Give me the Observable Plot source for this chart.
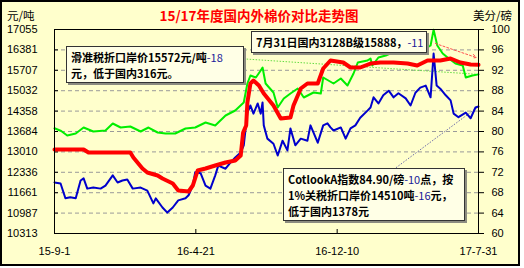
<!DOCTYPE html>
<html><head><meta charset="utf-8">
<script src="https://cdn.jsdelivr.net/npm/d3@7"></script>
<script src="https://cdn.jsdelivr.net/npm/@observablehq/plot@0.6"></script>
<style>
html,body{margin:0;padding:0;background:#fff;}
#wrap{position:relative;width:524px;height:268px;}
#frame{position:absolute;left:0;top:0;width:520px;height:266px;box-sizing:border-box;border:2px solid #000;background:#FFFFCC;}
#chart{position:absolute;left:0;top:0;}
.lbl{position:absolute;font-family:"Noto Sans CJK SC","Liberation Sans",sans-serif;font-size:11.5px;line-height:12px;white-space:nowrap;}
.title{color:#FF0000;font-weight:bold;font-size:13.5px;line-height:14px;}
.box{position:absolute;background:#FFFFE6;border:1px solid #333;box-shadow:2px 2px 0 #8c8c80;box-sizing:border-box;
  font-family:"Noto Sans CJK SC","Liberation Sans",sans-serif;font-weight:bold;font-size:11px;line-height:16px;padding:0 0 0 4px;white-space:nowrap;color:#000;}
.nv{color:#1a1a99;font-weight:normal;}
</style></head>
<body>
<div id="wrap">
  <div id="frame"></div>
  <div id="chart"></div>
</div>
<script>
// ---- data ----
const chartTitle = "15/17年度国内外棉价对比走势图";
const leftUnit = "元/吨";
const rightUnit = "美分/磅";
const leftTicks = [10313,10987,11661,12336,13010,13684,14358,15032,15707,16381,17055];
const rightTicks = [60,64,68,72,76,80,84,88,92,96,100];
const xTickDates = ["2015-09-01","2016-04-21","2016-12-10","2017-07-31"];
const xTickLabels = ["15-9-1","16-4-21","16-12-10","17-7-31"];

// 国内3128B价格 (元/吨)
const domestic = [
["2015-09-01",13089],["2015-10-19",13089],["2015-10-27",12990],["2016-01-04",12990],["2016-01-09",12825],
["2016-01-24",12461],["2016-02-01",12329],["2016-02-18",12230],["2016-02-26",12131],["2016-03-14",11965],
["2016-03-23",11734],["2016-04-09",11701],["2016-04-16",11899],["2016-04-24",12395],["2016-05-07",12461],
["2016-05-23",12560],["2016-06-09",12659],["2016-06-25",12726],["2016-07-04",12891],["2016-07-08",13651],
["2016-07-13",13882],["2016-07-15",14642],["2016-07-20",15270],["2016-07-25",15369],["2016-08-03",15204],
["2016-08-11",14940],["2016-08-27",14543],["2016-09-08",14113],["2016-09-24",14147],["2016-09-29",14543],
["2016-10-11",15105],["2016-10-22",15270],["2016-11-08",15270],["2016-11-17",15766],["2016-11-29",16030],
["2016-12-20",15964],["2017-01-01",15799],["2017-01-17",15799],["2017-02-03",15931],["2017-02-19",15964],
["2017-03-13",15964],["2017-04-05",15931],["2017-04-21",15865],["2017-05-08",16030],["2017-05-29",16030],
["2017-06-15",16097],["2017-07-01",15964],["2017-07-18",15898],["2017-07-31",15888]];

// 滑准税折口岸价 (元/吨)
const slidingImport = [
["2015-09-01",13790],["2015-09-12",13700],["2015-09-22",13552],["2015-10-06",13618],["2015-10-19",13816],["2015-11-04",13684],
["2015-11-24",13717],["2015-12-06",13948],["2015-12-19",13816],["2016-01-04",13849],["2016-01-21",13684],
["2016-02-03",13816],["2016-02-18",13651],["2016-03-02",13618],["2016-03-18",13618],["2016-04-04",13783],
["2016-04-20",13816],["2016-05-07",13981],["2016-05-23",13882],["2016-06-09",14213],["2016-06-25",14378],
["2016-07-09",14642],["2016-07-15",15270],["2016-07-20",15535],["2016-07-29",15469],["2016-08-06",15700],
["2016-08-09",15799],["2016-08-14",15270],["2016-08-27",14973],["2016-09-03",14477],["2016-09-13",14775],
["2016-09-24",14940],["2016-10-06",15105],["2016-10-16",14808],["2016-11-01",14973],["2016-11-13",14940],
["2016-11-17",15469],["2016-12-04",15270],["2016-12-16",15436],["2016-12-27",15204],["2017-01-06",15601],
["2017-01-13",15964],["2017-01-29",16030],["2017-02-03",16097],["2017-02-06",15865],["2017-02-16",16130],
["2017-02-28",16196],["2017-03-11",16295],["2017-03-21",16262],["2017-04-02",16361],["2017-04-13",16295],
["2017-04-23",16361],["2017-05-05",16427],["2017-05-13",16526],["2017-05-18",17050],["2017-05-24",16526],
["2017-06-02",16262],["2017-06-12",16097],["2017-06-23",15931],["2017-07-05",15865],["2017-07-10",15469],
["2017-07-21",15535],["2017-07-31",15572]];

// Cotlook A 指数 (美分/磅)
const cotlookA = [
["2015-09-01",70.0],["2015-09-11",69.8],["2015-09-19",66.9],["2015-09-27",67.1],["2015-10-06",66.9],
["2015-10-14",70.4],["2015-10-19",70.8],["2015-10-25",68.8],["2015-11-04",69.0],["2015-11-16",68.8],
["2015-11-24",69.4],["2015-12-06",71.4],["2015-12-14",70.0],["2015-12-22",70.4],["2015-12-30",70.6],
["2016-01-08",68.8],["2016-01-21",69.0],["2016-02-01",68.4],["2016-02-11",65.9],["2016-02-15",66.9],
["2016-02-26",65.1],["2016-03-05",64.1],["2016-03-14",65.1],["2016-03-23",66.5],["2016-04-04",66.9],
["2016-04-09",67.5],["2016-04-16",69.4],["2016-04-20",72.0],["2016-04-29",71.8],["2016-05-07",69.4],
["2016-05-15",68.8],["2016-05-23",71.4],["2016-05-28",73.3],["2016-06-09",72.7],["2016-06-17",73.9],
["2016-06-25",74.9],["2016-07-04",75.9],["2016-07-09",77.3],["2016-07-15",83.7],["2016-07-20",85.1],
["2016-07-25",83.5],["2016-08-01",85.5],["2016-08-06",83.5],["2016-08-09",85.7],["2016-08-11",81.2],
["2016-08-17",78.6],["2016-08-27",77.6],["2016-09-03",75.3],["2016-09-11",78.2],["2016-09-19",76.3],
["2016-09-24",80.6],["2016-10-02",77.3],["2016-10-11",78.6],["2016-10-22",78.2],["2016-10-27",81.2],
["2016-11-08",77.8],["2016-11-17",81.2],["2016-11-24",81.6],["2016-11-29",80.8],["2016-12-04",80.2],
["2016-12-16",80.8],["2016-12-24",78.6],["2017-01-01",80.6],["2017-01-09",81.2],["2017-01-17",82.7],
["2017-01-29",84.1],["2017-02-03",84.7],["2017-02-08",86.7],["2017-02-16",85.5],["2017-02-24",87.1],
["2017-03-05",88.0],["2017-03-13",86.7],["2017-03-21",87.5],["2017-04-02",86.5],["2017-04-10",85.1],
["2017-04-18",87.6],["2017-04-26",88.6],["2017-05-05",89.0],["2017-05-13",86.7],["2017-05-18",95.3],
["2017-05-23",89.0],["2017-05-29",88.4],["2017-06-07",87.1],["2017-06-15",86.1],["2017-06-20",83.5],
["2017-06-28",82.8],["2017-07-10",83.7],["2017-07-18",82.6],["2017-07-26",84.7],["2017-07-31",84.9]];

// annotation connectors: [startDate, startValue(元/吨)] -> series end
const greenLeaderStart = ["2016-06-29",16097];
const redArrowStart = ["2017-05-21",16592];
const redArrowEnd = ["2017-07-27",16130];
const blueLeaderStart = ["2017-03-13",12428];

// ---- build ----
const P = d3.utcParse("%Y-%m-%d");
const yMin = leftTicks[0], yMax = leftTicks[leftTicks.length-1];
const cMin = rightTicks[0], cMax = rightTicks[rightTicks.length-1];
const toLeft = c => yMin + (c - cMin) * (yMax - yMin) / (cMax - cMin);
const rows = arr => arr.map(([d,v]) => ({date: P(d), v}));
const dom = rows(domestic), grn = rows(slidingImport);
const blu = cotlookA.map(([d,c]) => ({date: P(d), v: toLeft(c)}));
const xt = xTickDates.map(P);
const last = a => a[a.length-1];

const chart = Plot.plot({
  width: 524, height: 268,
  marginLeft: 54, marginRight: 46, marginTop: 29, marginBottom: 35,
  style: {background: "transparent", fontFamily: "'Liberation Sans', 'Noto Sans CJK SC', sans-serif", fontSize: "11px", color: "#000"},
  x: {type: "utc", domain: [xt[0], last(xt)], label: null},
  y: {domain: [yMin, yMax], label: null},
  marks: [
    Plot.gridY(leftTicks, {stroke: "#9a9a9a", strokeOpacity: 1, strokeDasharray: "4,3"}),
    Plot.ruleY(leftTicks, {stroke: "#000", insetRight: 420}),
    Plot.ruleX(xt.slice(1, -1), {stroke: "#000", insetTop: 200}),
    Plot.link([0], {x1: () => P(greenLeaderStart[0]), y1: () => greenLeaderStart[1], x2: () => last(grn).date, y2: () => last(grn).v,
      stroke: "#66dd44", strokeWidth: 1, strokeDasharray: "1.5,1.5"}),
    Plot.link([0], {x1: () => P(blueLeaderStart[0]), y1: () => blueLeaderStart[1], x2: () => last(blu).date, y2: () => last(blu).v,
      stroke: "#6a6aa8", strokeWidth: 1, strokeDasharray: "1.5,1.5"}),
    Plot.line(blu, {x: "date", y: "v", stroke: "#0000cc", strokeWidth: 2}),
    Plot.line(grn, {x: "date", y: "v", stroke: "#00ee00", strokeWidth: 2}),
    Plot.line(dom, {x: "date", y: "v", stroke: "#ff0000", strokeWidth: 4}),
    Plot.arrow([0], {x1: () => P(redArrowStart[0]), y1: () => redArrowStart[1], x2: () => P(redArrowEnd[0]), y2: () => redArrowEnd[1],
      stroke: "#ff5050", strokeWidth: 1, strokeDasharray: "2,2", headLength: 6}),
    Plot.frame({stroke: "#000"}),
    Plot.axisY(leftTicks, {anchor: "left", label: null, tickSize: 0, tickPadding: 17, tickFormat: d => String(d)}),
    Plot.axisY(rightTicks.map(toLeft), {anchor: "right", label: null, tickSize: 5, tickPadding: 8, tickFormat: (d, i) => String(rightTicks[i])}),
    Plot.axisX(xt, {anchor: "bottom", label: null, tickSize: 0, tickPadding: 14, tickFormat: (d, i) => xTickLabels[i]})
  ]
});
document.getElementById("chart").appendChild(chart);

const wrap = document.getElementById("wrap");
function addDiv(cls, html, css) {
  const d = document.createElement("div");
  d.className = cls; d.innerHTML = html; Object.assign(d.style, css); wrap.appendChild(d); return d;
}
addDiv("lbl title", chartTitle, {left: "150px", width: "218px", textAlign: "center", top: "8px"});
addDiv("lbl", leftUnit, {left: "7px", top: "9px"});
addDiv("lbl", rightUnit, {left: "473px", top: "9px"});
addDiv("box", '滑准税折口岸价15572元/吨<span class="nv">-18</span><br>元，低于国内316元。', {left: "66px", top: "46px", width: "178px", height: "37px", paddingTop: "2px"});
addDiv("box", '7月31日国内3128B级15888，<span class="nv">-11</span>', {left: "251px", top: "31px", width: "176px", height: "22px", paddingTop: "2px"});
addDiv("box", 'CotlookA指数84.90/磅<span class="nv">-10</span>点，按<br>1%关税折口岸价14510吨<span class="nv">-16</span>元，<br>低于国内1378元', {left: "283px", top: "168px", width: "182px", height: "53px", paddingTop: "2px"});
</script>
</body></html>
